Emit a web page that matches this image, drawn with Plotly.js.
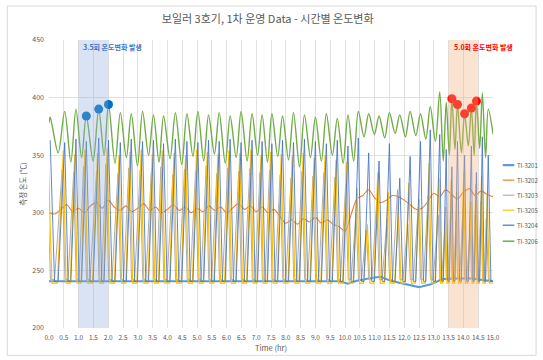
<!DOCTYPE html>
<html><head><meta charset="utf-8">
<script src="https://cdn.plot.ly/plotly-3.0.1.min.js"></script>
<style>html,body{margin:0;padding:0;background:#fff}#chart{width:543px;height:360px}</style>
</head><body><div id="chart"></div>
<script>
// ---- data ----
const seriesNames = ['TI-3201','TI-3202','TI-3203','TI-3205','TI-3204','TI-3206'];
const seriesColors = ['#5B9BD5','#ED7D31','#A5A5A5','#FFC000','#4472C4','#70AD47'];

// times (hr) of each heating cycle peak
const cycleTimes = [0.04,0.53,0.91,1.26,1.68,2.01,2.41,2.78,3.16,3.53,3.87,4.27,4.66,5.03,5.39,5.75,6.12,6.49,6.86,7.20,7.53,7.89,8.26,8.63,9.00,9.37,9.74,10.10,10.45,10.80,11.15,11.50,11.85,12.20,12.55,12.88,13.20,13.42,13.61,13.80,14.04,14.27,14.44,14.64,14.84];
// TI-3206 peaks / troughs per cycle
const ti3206Peaks = [383,388,390,384,390,394,387,386,388,385,384,387,386,388,385,387,384,388,386,385,386,384,387,385,383,386,382,385,388,386,384,387,385,388,386,392,405,396,399,394,386,391,397,404,390];
const ti3206Troughs = [352,344,348,345,350,343,348,341,350,344,347,342,349,345,351,343,348,345,350,344,349,346,340,348,345,350,343,345,366,368,365,369,366,367,364,362,345,350,355,352,358,350,356,348,368];
// TI-3204 peaks per cycle
const ti3204Peaks = [363,361,364,362,365,363,361,364,362,363,360,364,362,361,363,362,364,361,363,362,360,363,361,364,362,360,363,358,365,352,345,360,330,349,362,372,368,355,340,362,350,358,335,366,350];
// TI-3205 peaks per cycle
const ti3205Peaks = [340,354,351,355,352,356,350,353,355,351,354,352,350,355,353,351,354,352,355,350,353,351,349,352,348,350,346,344,322,290,335,318,300,326,312,343,330,305,328,318,336,310,325,332,315];
// TI-3203 peaks per cycle
const ti3203Peaks = [330,338,335,340,336,342,334,339,337,335,340,333,338,336,341,334,339,336,338,335,337,333,330,336,332,335,331,325,300,285,310,295,320,290,305,315,298,288,300,292,305,285,298,310,295];
const lowLevels = {ti3204: 240.5, ti3205: 239, ti3203: 242};

// TI-3201 (near-flat)
const ti3201Times = [0, 9.8, 10.1, 10.4, 10.9, 11.2, 11.6, 12.0, 12.5, 12.9, 13.3, 13.8, 14.3, 14.7, 15.0];
const ti3201Vals  = [240.5, 240.5, 238.5, 241, 243.5, 244.5, 240.5, 238, 235.5, 238, 242.5, 243, 243, 241.5, 240.5];

// TI-3202 (wavy ~300)
const ti3202Times = [0,0.2,0.4,0.6,0.8,1.0,1.2,1.4,1.6,1.8,2.0,2.2,2.4,2.6,2.8,3.0,3.2,3.4,3.6,3.8,4.0,4.2,4.4,4.6,4.8,5.0,5.2,5.4,5.6,5.8,6.0,6.2,6.4,6.6,6.8,7.0,7.2,7.4,7.6,7.8,8.0,8.2,8.4,8.6,8.8,9.0,9.2,9.4,9.6,9.8,10.0,10.2,10.4,10.6,10.8,11.0,11.2,11.4,11.6,11.8,12.0,12.2,12.4,12.6,12.8,13.0,13.2,13.4,13.6,13.8,14.0,14.2,14.4,14.6,14.8,15.0];
const ti3202Vals = [300,299,303,307,301,304,300,306,309,304,311,305,302,306,301,304,308,302,305,300,303,307,302,305,300,304,301,306,302,305,300,304,308,303,306,301,305,300,303,297,291,294,290,295,292,296,291,294,290,288,284,298,312,315,320,313,309,311,315,314,311,307,303,304,310,317,314,320,316,312,318,321,315,319,316,314];

// highlighted peaks
const blueMarkTimes = [1.26, 1.68, 2.01];
const blueMarkVals  = [384, 390, 394];
const redMarkTimes  = [13.61, 13.80, 14.04, 14.27, 14.44];
const redMarkVals   = [399, 394, 386, 391, 397];

const xTickVals = [0,0.5,1,1.5,2,2.5,3,3.5,4,4.5,5,5.5,6,6.5,7,7.5,8,8.5,9,9.5,10,10.5,11,11.5,12,12.5,13,13.5,14,14.5,15];
const yTickVals = [200,250,300,350,400,450];

// ---- waveform assembly (shape of one cycle) ----
function period(i){ return i < cycleTimes.length-1 ? cycleTimes[i+1]-cycleTimes[i] : 0.3; }
function osc(peaks, low, peakShift, downAt, holdTo){
  const x=[], y=[];
  peaks.forEach((p,i)=>{
    const t=cycleTimes[i], d=period(i);
    x.push(t+peakShift*d, t+downAt*d, t+holdTo*d);
    y.push(p, low, low);
  });
  return {x,y};
}
const green = {x:[0],y:[378]};
ti3206Peaks.forEach((p,i)=>{
  const t=cycleTimes[i], d=period(i);
  green.x.push(t, t+0.55*d); green.y.push(p, ti3206Troughs[i]);
});
const b = osc(ti3204Peaks, lowLevels.ti3204, 0, 0.3, 0.55);
const yel = osc(ti3205Peaks, lowLevels.ti3205, -0.12, 0.12, 0.5);
const gr = osc(ti3203Peaks, lowLevels.ti3203, -0.22, 0.02, 0.3);

const traces = [
  {x:ti3201Times, y:ti3201Vals, name:seriesNames[0], mode:'lines', line:{color:seriesColors[0], width:2}},
  {x:ti3202Times, y:ti3202Vals, name:seriesNames[1], mode:'lines', line:{color:seriesColors[1], width:1.1, shape:'spline', smoothing:0.8}},
  {x:gr.x, y:gr.y, name:seriesNames[2], mode:'lines', line:{color:seriesColors[2], width:0.9}},
  {x:yel.x, y:yel.y, name:seriesNames[3], mode:'lines', line:{color:seriesColors[3], width:1.2}},
  {x:b.x, y:b.y, name:seriesNames[4], mode:'lines', opacity:0.85, line:{color:seriesColors[4], width:1}},
  {x:green.x, y:green.y, name:seriesNames[5], mode:'lines', line:{color:seriesColors[5], width:1.4, shape:'spline', smoothing:0.9}},
  {x:blueMarkTimes, y:blueMarkVals, mode:'markers', marker:{color:'#0070C0', size:9}, showlegend:false},
  {x:redMarkTimes, y:redMarkVals, mode:'markers', marker:{color:'#FF0000', size:9}, showlegend:false}
];

const font = 'Noto Sans CJK KR, Noto Sans, sans-serif';
const shapes = [
  {type:'rect', xref:'x', yref:'paper', x0:1.0, x1:2.0, y0:0, y1:1, fillcolor:'#8EA9DB', opacity:0.33, line:{width:0}, layer:'above'},
  {type:'rect', xref:'x', yref:'paper', x0:13.5, x1:14.5, y0:0, y1:1, fillcolor:'#F4B183', opacity:0.36, line:{width:0}, layer:'above'},
  {type:'rect', xref:'paper', yref:'paper', x0:-0.094, x1:1.097, y0:-0.095, y1:1.118, line:{color:'#D9D9D9', width:1}, fillcolor:'rgba(0,0,0,0)', layer:'below'}
];
const annotations = [
  {xref:'x', yref:'paper', x:1.07, y:0.975, xanchor:'left', yanchor:'middle', showarrow:false, text:'<b>3.5회 온도변화 발생</b>', font:{family:font, size:7, color:'#4472C4'}},
  {xref:'x', yref:'paper', x:13.6, y:0.975, xanchor:'left', yanchor:'middle', showarrow:false, text:'<b>5.0회 온도변화 발생</b>', font:{family:font, size:7, color:'#FF0000'}}
];
// custom compact legend
const legYs = [0.5655,0.5134,0.4612,0.4091,0.357,0.3014];
const legW = [2.2,1.2,1,1.2,1.2,1.5];
seriesNames.forEach((n,i)=>{
  shapes.push({type:'line', xref:'paper', yref:'paper', x0:1.022, x1:1.048, y0:legYs[i], y1:legYs[i], line:{color:seriesColors[i], width:legW[i]}});
  annotations.push({xref:'paper', yref:'paper', x:1.05, y:legYs[i], xanchor:'left', yanchor:'middle', showarrow:false, text:n, font:{family:font, size:6, color:'#595959'}});
});

const layout = {
  width:543, height:360,
  margin:{l:48.7, r:50.3, t:40, b:32.3},
  paper_bgcolor:'#fff', plot_bgcolor:'#fff',
  showlegend:false,
  title:{text:'보일러 3호기, 1차 운영 Data - 시간별 온도변화', x:0.493, xref:'container', y:0.947, yref:'container', yanchor:'middle', font:{family:font, size:11, color:'#595959'}},
  xaxis:{range:[0,15], tickvals:xTickVals, tickformat:'.1f', tickangle:0, ticklabelstandoff:4, showgrid:true, gridcolor:'#D9D9D9', gridwidth:0.8, zeroline:false, showline:false, ticks:'', tickfont:{family:font, size:6.5, color:'#595959'}, title:{text:'Time (hr)', font:{family:font, size:7.5, color:'#595959'}, standoff:2}},
  yaxis:{range:[200,450], tickvals:yTickVals, ticklabelstandoff:4, showgrid:true, gridcolor:'#D9D9D9', gridwidth:0.8, zeroline:false, showline:false, ticks:'', tickfont:{family:font, size:7, color:'#595959'}, title:{text:'측정 온도 (℃)', font:{family:font, size:7.5, color:'#595959'}, standoff:4}},
  shapes, annotations
};
Plotly.newPlot('chart', traces, layout, {displayModeBar:false, staticPlot:true});
</script></body></html>
